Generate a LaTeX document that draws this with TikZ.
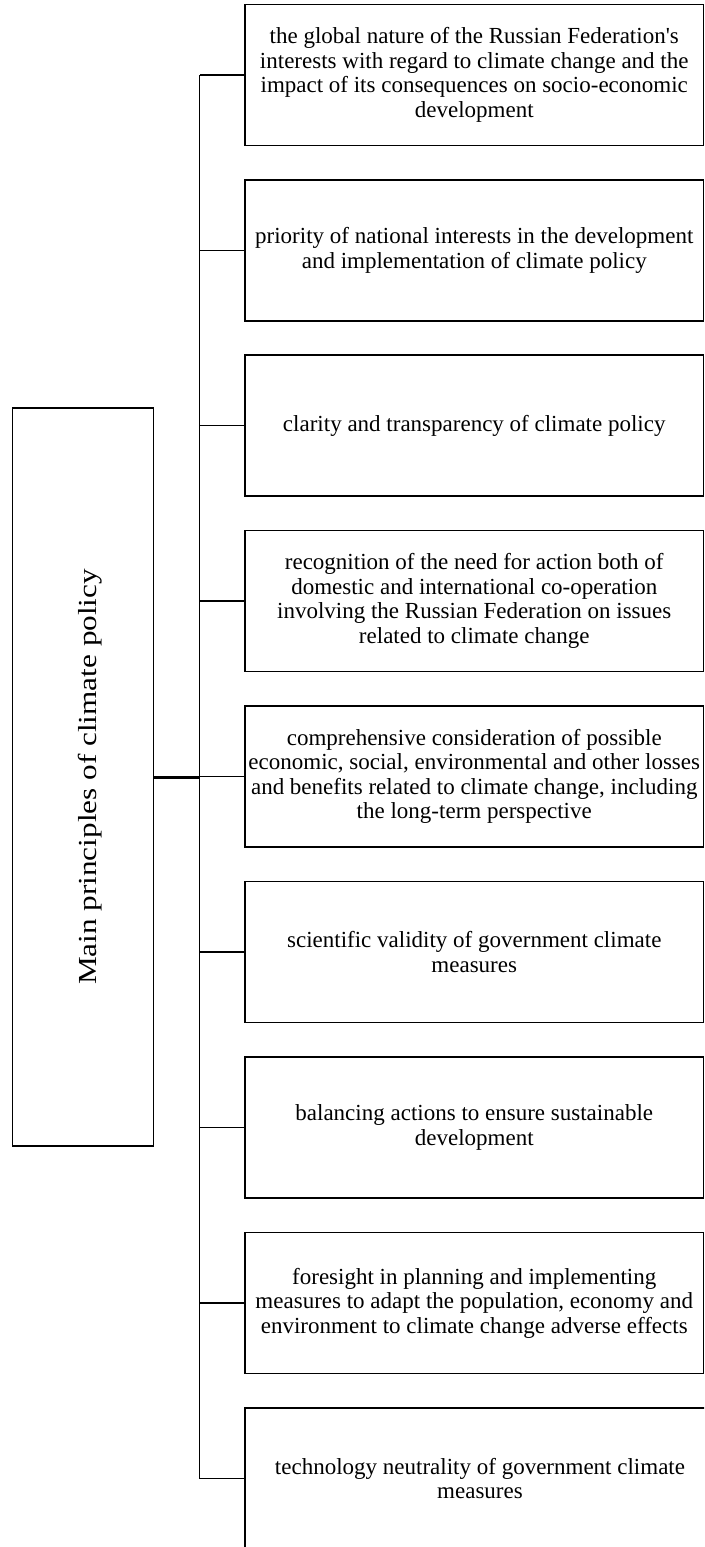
\documentclass[tikz,border=0pt]{standalone}
\usepackage{fontspec}
\setmainfont{Liberation Serif}
\begin{document}
\begin{tikzpicture}[x=1pt,y=-1pt,
  item/.style={draw, line width=1.6pt, rectangle, minimum width=458.5pt, minimum height=141pt,
    inner sep=0pt, align=center, font=\fontsize{23}{24.5}\selectfont},
  mainbox/.style={draw, line width=1.6pt, rectangle, minimum width=141pt, minimum height=738pt,
    inner sep=0pt},
  mainlabel/.style={rotate=90, inner sep=0pt, font=\fontsize{26}{28}\selectfont},
  link/.style={line width=1.8pt},
  mainlink/.style={line width=3pt}]
\useasboundingbox (0,0) rectangle (704,1547);
\clip (0,0) rectangle (704,1547);
\fill[white] (0,0) rectangle (704,1547);
\coordinate (sp) at (199.5,0);
\node[item] (b1) at (474.25,75) {the global nature of the Russian Federation\textquotesingle s\\interests with regard to climate change and the\\impact of its consequences on socio-economic\\development};
\node[item] (b2) at (474.25,250.5) {priority of national interests in the development\\and implementation of climate policy};
\node[item] (b3) at (474.25,425.5) {clarity and transparency of climate policy};
\node[item] (b4) at (474.25,601) {recognition of the need for action both of\\domestic and international co-operation\\involving the Russian Federation on issues\\related to climate change};
\node[item] (b5) at (474.25,776.5) {comprehensive consideration of possible\\economic, social, environmental and other losses\\and benefits related to climate change, including\\the long-term perspective};
\node[item] (b6) at (474.25,952) {scientific validity of government climate\\measures};
\node[item] (b7) at (474.25,1127.5) {balancing actions to ensure sustainable\\development};
\node[item] (b8) at (474.25,1303) {foresight in planning and implementing\\measures to adapt the population, economy and\\environment to climate change adverse effects};
\node[item, minimum width=470pt] (b9) at (480,1478.5) {technology neutrality of government climate\\measures};
\node[mainbox] (m) at (82.8,777) {};
\node[mainlabel] (ml) at (90,777) {\scalebox{1.2}[1]{Main principles of climate policy}};
\foreach \i in {1,...,9} {\draw[link] (b\i.west) -- (b\i.west -| sp);}
\draw[link] (b1.west -| sp) -- (b9.west -| sp);
\draw[mainlink] (m.east) -- (m.east -| sp);
\end{tikzpicture}
\end{document}
